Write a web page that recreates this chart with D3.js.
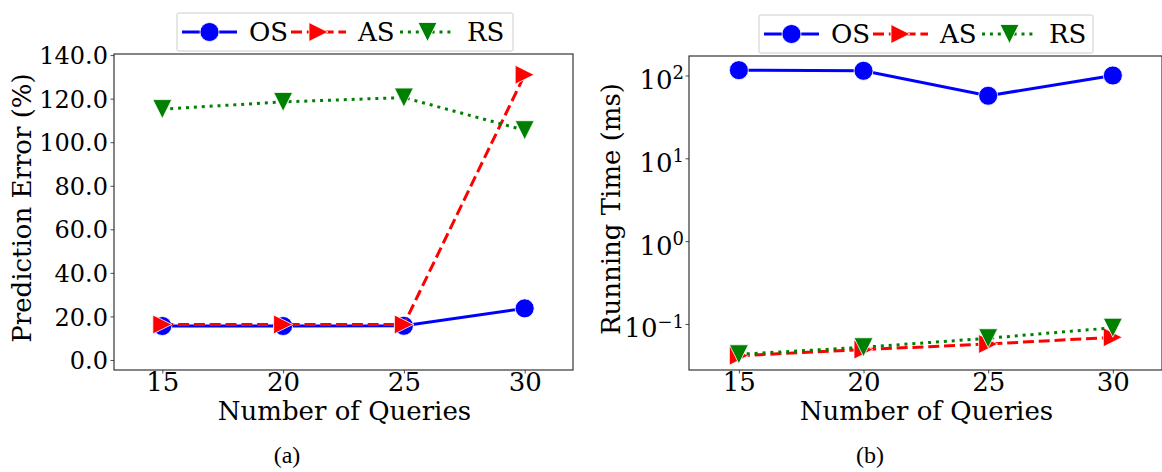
<!DOCTYPE html>
<html>
<head>
<meta charset="utf-8">
<script src="https://cdn.jsdelivr.net/npm/d3@7"></script>
<style>
  html, body { margin: 0; padding: 0; background: #fff; }
  svg { display: block; }
  text { font-family: "DejaVu Serif", serif; fill: #000; }
  .caption { font-family: "Liberation Serif", "Times New Roman", serif; }
</style>
</head>
<body>
<svg id="chart" width="1162" height="472"></svg>
<script>
// Number of queries on the x axis
const queries = [15, 20, 25, 30];
const queryTickLabels = ["15", "20", "25", "30"];

// (a) prediction error in percent
const errorOS = [15.6, 15.6, 15.7, 23.7];
const errorAS = [16.3, 16.3, 16.3, 131.0];
const errorRS = [115.2, 118.5, 120.5, 105.5];
const errorTicks = [0, 20, 40, 60, 80, 100, 120, 140];
const errorTickLabels = ["0.0", "20.0", "40.0", "60.0", "80.0", "100.0", "120.0", "140.0"];

// (b) running time in milliseconds (log scale)
const timeOS = [116, 114, 57, 100];
const timeAS = [0.0414, 0.049, 0.0573, 0.069];
const timeRS = [0.043, 0.0523, 0.0672, 0.090];
const timeTicks = [0.1, 1, 10, 100];
const timeTickExponents = ["\u22121", "0", "1", "2"];

const seriesNames = ["OS", "AS", "RS"];

const svg = d3.select("#chart");
const FONT = 26;

const styles = {
  OS: { color: "#0000ff", dash: null, marker: "circle" },
  AS: { color: "#ff0000", dash: "11,4.8", marker: "right" },
  RS: { color: "#008000", dash: "3,4.9", marker: "down" }
};

function markerPath(kind, s) {
  const h = s / 2;
  if (kind === "right") return `M${-h},${-h}L${h},0L${-h},${h}Z`;
  if (kind === "down") return `M${-h},${-h}L${h},${-h}L0,${h}Z`;
  return null;
}

function drawMarker(g, kind, cx, cy, color) {
  const size = 19;
  if (kind === "circle") {
    g.append("circle").attr("cx", cx).attr("cy", cy).attr("r", size / 2)
      .attr("fill", color).attr("stroke", "#fff").attr("stroke-width", 0.8);
  } else {
    g.append("path").attr("d", markerPath(kind, size))
      .attr("transform", `translate(${cx},${cy})`)
      .attr("fill", color).attr("stroke", "#fff").attr("stroke-width", 0.8);
  }
}

function drawPanel(opts) {
  const { left, right, top, bottom, x, y, series, yTicks, yTickFormat, yLabel, yLabelX, caption, captionX, legend } = opts;
  const g = svg.append("g");

  // frame
  g.append("rect").attr("x", left).attr("y", top)
    .attr("width", right - left).attr("height", bottom - top)
    .attr("fill", "none").attr("stroke", "#222").attr("stroke-width", 1.1);

  // x axis ticks and labels
  const xAxis = d3.axisBottom(x).tickValues(queries)
    .tickFormat((d, i) => queryTickLabels[i]).tickSize(3.5);
  const xg = g.append("g").attr("transform", `translate(0,${bottom})`).call(xAxis);
  xg.select(".domain").remove();
  xg.selectAll("line").attr("stroke", "#222").attr("stroke-width", 0.8);
  xg.selectAll("text").attr("font-size", FONT).attr("font-family", "DejaVu Serif").attr("fill", "#000")
    .attr("y", 21).attr("dy", 0);

  // y axis ticks and labels
  const yAxis = d3.axisLeft(y).tickValues(yTicks).tickFormat("").tickSize(3.5);
  const yg = g.append("g").attr("transform", `translate(${left},0)`).call(yAxis);
  yg.select(".domain").remove();
  yg.selectAll("line").attr("stroke", "#222").attr("stroke-width", 0.8);
  yg.selectAll(".tick").each(function (d, i) {
    yTickFormat(d3.select(this), d, i);
  });

  // axis titles
  g.append("text").attr("x", (left + right) / 2 + 1).attr("y", 420)
    .attr("text-anchor", "middle").attr("font-size", FONT).text("Number of Queries");
  g.append("text").attr("transform", `translate(${yLabelX},${(top + bottom) / 2 - 4}) rotate(-90)`)
    .attr("text-anchor", "middle").attr("dy", "0.35em").attr("font-size", FONT).text(yLabel);

  // series lines then markers, in drawing order
  const lineGen = d3.line().x((d, i) => x(queries[i])).y(d => y(d));
  series.forEach(s => {
    const st = styles[s.name];
    const sg = g.append("g");
    sg.append("path").datum(s.values).attr("d", lineGen)
      .attr("fill", "none").attr("stroke", st.color).attr("stroke-width", 3)
      .attr("stroke-dasharray", st.dash);
    s.values.forEach((v, i) => drawMarker(sg, st.marker, x(queries[i]), y(v), st.color));
  });

  // legend
  const lg = svg.append("g");
  lg.append("rect").attr("x", legend.x).attr("y", legend.y).attr("width", legend.w).attr("height", legend.h)
    .attr("rx", 1.5).attr("fill", "#fff").attr("fill-opacity", 0.9).attr("stroke", "#ccc").attr("stroke-width", 1);
  const cy = legend.y + legend.h / 2;
  seriesNames.forEach((name, i) => {
    const st = styles[name];
    const x0 = legend.x + 5 + i * 109;
    lg.append("line").attr("x1", x0).attr("x2", x0 + 55).attr("y1", cy).attr("y2", cy)
      .attr("stroke", st.color).attr("stroke-width", 3).attr("stroke-dasharray", st.dash);
    drawMarker(lg, st.marker, x0 + 27.5, cy, st.color);
    lg.append("text").attr("x", x0 + 67).attr("y", cy).attr("dy", "0.36em")
      .attr("font-size", FONT).text(name);
  });

  // sub-figure caption
  svg.append("text").attr("class", "caption").attr("x", captionX).attr("y", 463)
    .attr("text-anchor", "middle").attr("font-size", 24).text(caption);
}

// (a) Prediction error
const xA = d3.scaleLinear().domain([13, 32]).range([114, 573]);
const yA = d3.scaleLinear().domain([-4.6, 140.5]).range([370, 54]);
drawPanel({
  left: 114, right: 573, top: 54, bottom: 370, x: xA, y: yA,
  series: [
    { name: "OS", values: errorOS },
    { name: "AS", values: errorAS },
    { name: "RS", values: errorRS }
  ],
  yTicks: errorTicks,
  yTickFormat: (tick, d, i) => {
    tick.append("text").attr("x", -6).attr("dy", "0.36em").attr("text-anchor", "end")
      .attr("font-size", 24).attr("font-family", "DejaVu Serif").attr("fill", "#000")
      .text(errorTickLabels[i]);
  },
  yLabel: "Prediction Error (%)", yLabelX: 22,
  caption: "(a)", captionX: 287,
  legend: { x: 177, y: 13, w: 336, h: 38 }
});

// (b) Running time
const xB = d3.scaleLinear().domain([13, 32]).range([689, 1162.7]);
const yB = d3.scaleLog().domain([0.0278, 172]).range([370, 56]);
drawPanel({
  left: 689, right: 1162, top: 56, bottom: 370, x: xB, y: yB,
  series: [
    { name: "OS", values: timeOS },
    { name: "AS", values: timeAS },
    { name: "RS", values: timeRS }
  ],
  yTicks: timeTicks,
  yTickFormat: (tick, d, i) => {
    const t = tick.append("text").attr("x", -5).attr("dy", "0.5em").attr("text-anchor", "end")
      .attr("font-size", FONT).attr("font-family", "DejaVu Serif").attr("fill", "#000");
    t.append("tspan").text("10");
    t.append("tspan").attr("font-size", 18).attr("dy", "-0.55em").text(timeTickExponents[i]);
  },
  yLabel: "Running Time (ms)", yLabelX: 611,
  caption: "(b)", captionX: 870,
  legend: { x: 759, y: 15, w: 334, h: 38 }
});
</script>
</body>
</html>
